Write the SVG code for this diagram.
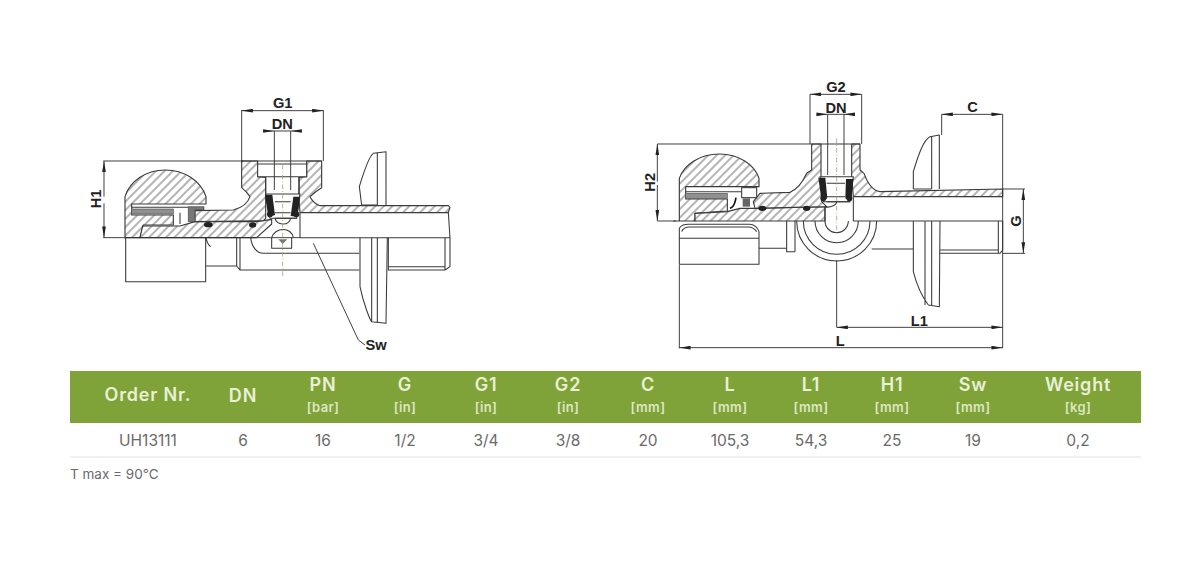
<svg xmlns="http://www.w3.org/2000/svg" width="1200" height="569" viewBox="0 0 1200 569">
<style>
.o{fill:none;stroke:#3a3a3a;stroke-width:3.2;stroke-linejoin:round}
.h{fill:url(#hatch);stroke:#3a3a3a;stroke-width:3.4;stroke-linejoin:round}
.w{fill:#fff;stroke:#3a3a3a;stroke-width:3.2}
.k{fill:#222;stroke:none}
.g{fill:#8f8f8f;stroke:#555;stroke-width:2}
.c{fill:none;stroke:#a3a37e;stroke-width:2.4;stroke-dasharray:14 6 3 6}
.d{fill:none;stroke:#333;stroke-width:2.8}
.a{marker-end:url(#arr)}
.l{font-family:"Liberation Sans",Arial,sans-serif;font-weight:700;font-size:44px;fill:#222;text-anchor:middle}
.th{font-family:Inter,"Open Sans",sans-serif;font-weight:600;font-size:18px;letter-spacing:.8px;fill:#e9f0d6;text-anchor:middle}
.tu{font-family:Inter,"Open Sans",sans-serif;font-weight:600;font-size:13px;letter-spacing:.4px;fill:#dde7c2;text-anchor:middle}
.td{font-family:Inter,"Open Sans",sans-serif;font-weight:400;font-size:15.5px;fill:#6a6a6a;text-anchor:middle}
</style>
<defs>
<pattern id="hatch" patternUnits="userSpaceOnUse" width="18" height="18" patternTransform="rotate(45)">
<rect width="18" height="18" fill="#fff"/><line x1="9" y1="0" x2="9" y2="18" stroke="#6a6a6a" stroke-width="3"/>
</pattern>
<marker id="arr" viewBox="0 0 12 4" refX="12" refY="2" markerWidth="12" markerHeight="4" orient="auto" markerUnits="strokeWidth">
<path d="M0 0L12 2L0 4Z" fill="#222"/>
</marker>
</defs>
<rect width="1200" height="569" fill="#fff"/>

<g id="valve-left" transform="translate(80,90) scale(.33333)">
<path class="h" d="M135 443V320C150 272 200 240 256 240C312 240 362 272 378 320V342H155V375H280V405H190L180 443Z"/>
<path class="h" d="M180 443L188 408H300L345 395H530L575 388V402L530 443Z"/>
<path class="h" d="M345 362L460 360Q500 350 510 320Q500 305 485 293V213H533V260L557 262V385L550 392L345 395Z"/>
<path class="h" d="M725 213H680V260L657 262V330L660 368H1105L1110 352L1105 347H720Q700 340 690 320Q705 305 725 293Z"/>
<path class="w" d="M533 222H680V260H533Z"/>
<path class="o" d="M485 213H725"/>
<path class="o" d="M557 262V312M657 262V312"/>
<rect class="g" x="155" y="357" width="125" height="15"/>
<path class="o" d="M155 352H325M300 368V402"/>
<path d="M325 350H372V360H345V395H325Z" fill="#777" stroke="#444" stroke-width="2"/>
<path class="w" d="M557 312H660L650 385H570Z"/>
<path class="k" d="M555 314H577L585 375L565 382Z"/>
<path class="k" d="M660 320H640L632 378L652 380Z"/>
<circle class="k" cx="570" cy="373" r="9"/><circle class="k" cx="649" cy="373" r="9"/>
<ellipse class="k" cx="385" cy="404" rx="13" ry="8"/><ellipse class="k" cx="518" cy="405" rx="11" ry="8"/>
<path class="o" d="M585 335H632M585 368H632M585 385H650M585 385C590 405 625 410 632 385M660 368V443M575 443C585 410 635 410 640 443"/>
<path class="o" d="M575 443V475H635V443M512 443C515 470 530 490 550 490H838M470 443V528H378M480 443V540H838M470 528L480 540M378 443C380 455 385 465 392 470"/>
<path class="o" d="M137 443V575H377V443"/>
<path d="M595 448H622L608 462Z" fill="#777"/>
<path class="c" d="M608 225V560"/>
<path class="o" d="M845 345L838 290C850 250 865 200 880 190L918 185V345M892 190V345M845 345H892"/>
<path class="o" d="M840 443V590C850 640 870 690 875 695L918 700L922 443M875 443V695M892 443V697"/>
<path class="o" d="M925 443V540H1095L1110 530V443M1095 443V540M925 530H1095M1105 368L1110 443"/>
<path class="o" d="M660 443H1110"/>
</g>

<g id="valve-right" transform="translate(640,75) scale(.33333)">
<path class="h" d="M118 438V310C132 268 180 237 238 237C296 237 344 268 357 310V335H137V372H262V408L165 415V438Z"/>
<path class="h" d="M165 438V415L262 410L300 400H345L555 395V438Z"/>
<path class="h" d="M340 380L360 355L450 352Q480 340 500 295L515 285V207H543V305L545 380L560 395L345 400Z"/>
<path class="h" d="M660 207H635V305L640 365H1088V342L720 350Q690 345 672 295L660 285Z"/>
<path class="o" d="M515 207H660"/>
<rect class="g" x="137" y="355" width="125" height="15"/>
<path class="o" d="M137 350H305"/>
<rect class="w" x="305" y="338" width="45" height="30"/>
<path d="M308 370H330V395H308Z" fill="#666"/>
<path d="M270 400C285 395 285 380 288 368" fill="none" stroke="#111" stroke-width="5"/>
<path class="w" d="M540 305H640L630 380H550Z"/>
<path class="k" d="M535 308H556L562 370L545 378Z"/>
<path class="k" d="M640 312H618L616 370L634 378Z"/>
<circle class="k" cx="550" cy="370" r="9"/><circle class="k" cx="628" cy="370" r="9"/>
<ellipse class="k" cx="367" cy="400" rx="12" ry="8"/><ellipse class="k" cx="500" cy="400" rx="11" ry="8"/>
<path class="o" d="M560 325H615M560 365H615M560 380H630M555 395V438M640 365V438M555 395C570 400 590 390 590 380"/>
<path class="c" d="M590 190V470"/>
<path class="o" d="M118 460Q125 448 145 448H330Q350 450 357 470V568H118ZM118 490H357M125 470Q130 456 150 456H325Q340 456 350 470"/>
<path class="o" d="M357 520H440M440 438V530H465M465 438V530"/>
<path class="o" d="M470 438A120 120 0 0 0 710 438M490 438A100 100 0 0 0 690 438M525 438A65 65 0 0 0 655 438M555 438A35 35 0 0 0 625 438"/>
<path class="o" d="M695 522H820"/>
<path class="o" d="M820 342V290C835 240 850 195 870 185L898 180V342M875 185V342M820 342H875"/>
<path class="o" d="M820 438V590Q835 650 865 690L898 695L900 438M855 438V690M875 438V692"/>
<path class="o" d="M900 535H1080L1088 525V438M1075 438V535M900 525H1075"/>
<path class="o" d="M640 438H1088M118 438H100"/>
</g>

<g id="connectors">
<g transform="translate(80,90) scale(.33333)">
<path class="d" d="M485 60V213M730 60V213M583 123V300M632 123V300M70 213H490M70 443H135M135 443H660"/>
<path class="d a" d="M607 62H485"/><path class="d a" d="M607 62H730"/>
<path class="d a" d="M550 123H583"/><path class="d a" d="M665 123H632"/><path class="d" d="M583 123H632"/>
<path class="d a" d="M72 320V213"/><path class="d a" d="M72 340V443"/>
<path class="d" d="M700 460L835 750L855 765"/>
</g>
<g transform="translate(640,75) scale(.33333)">
<path class="d" d="M510 58V207M665 58V207M563 118V300M612 118V300M52 207H515M52 438H108M905 118V180M1088 118V820M590 555V757M118 570V820M1088 342H1155M1088 535H1155"/>
<path class="d a" d="M587 58H510"/><path class="d a" d="M587 58H665"/>
<path class="d a" d="M530 118H563"/><path class="d a" d="M645 118H612"/><path class="d" d="M563 118H612"/>
<path class="d a" d="M1000 118H905"/><path class="d a" d="M1000 118H1088"/>
<path class="d a" d="M52 320V207"/><path class="d a" d="M52 330V438"/>
<path class="d a" d="M1150 440V342"/><path class="d a" d="M1150 440V535"/>
<path class="d a" d="M840 757H590"/><path class="d a" d="M840 757H1088"/>
<path class="d a" d="M600 818H118"/><path class="d a" d="M600 818H1088"/>
</g>
</g>

<g id="dimension-labels">
<g transform="translate(80,90) scale(.33333)">
<text class="l" x="608" y="55">G1</text>
<text class="l" x="607" y="116">DN</text>
<text class="l" transform="translate(64,327) rotate(-90)" x="0" y="0">H1</text>
<text class="l" x="888" y="781">Sw</text>
</g>
<g transform="translate(640,75) scale(.33333)">
<text class="l" x="588" y="50">G2</text>
<text class="l" x="588" y="113">DN</text>
<text class="l" x="998" y="112">C</text>
<text class="l" transform="translate(46,322) rotate(-90)" x="0" y="0">H2</text>
<text class="l" transform="translate(1144,438) rotate(-90)" x="0" y="0">G</text>
<text class="l" x="838" y="752">L1</text>
<text class="l" x="601" y="812">L</text>
</g>
</g>

<g id="table">
<rect x="70" y="371" width="1071" height="52" fill="#7fa339"/>
<text class="th" x="148" y="401">Order Nr.</text>
<text class="th" x="243" y="402">DN</text>
<text class="th" x="323" y="391">PN</text><text class="tu" x="323" y="412">[bar]</text>
<text class="th" x="405" y="391">G</text><text class="tu" x="405" y="412">[in]</text>
<text class="th" x="486" y="391">G1</text><text class="tu" x="486" y="412">[in]</text>
<text class="th" x="568" y="391">G2</text><text class="tu" x="568" y="412">[in]</text>
<text class="th" x="648" y="391">C</text><text class="tu" x="648" y="412">[mm]</text>
<text class="th" x="730" y="391">L</text><text class="tu" x="730" y="412">[mm]</text>
<text class="th" x="811" y="391">L1</text><text class="tu" x="811" y="412">[mm]</text>
<text class="th" x="892" y="391">H1</text><text class="tu" x="892" y="412">[mm]</text>
<text class="th" x="973" y="391">Sw</text><text class="tu" x="973" y="412">[mm]</text>
<text class="th" x="1078" y="391">Weight</text><text class="tu" x="1078" y="412">[kg]</text>
<text class="td" x="148" y="446">UH13111</text>
<text class="td" x="243" y="446">6</text>
<text class="td" x="323" y="446">16</text>
<text class="td" x="405" y="446">1/2</text>
<text class="td" x="486" y="446">3/4</text>
<text class="td" x="568" y="446">3/8</text>
<text class="td" x="648" y="446">20</text>
<text class="td" x="730" y="446">105,3</text>
<text class="td" x="811" y="446">54,3</text>
<text class="td" x="892" y="446">25</text>
<text class="td" x="973" y="446">19</text>
<text class="td" x="1078" y="446">0,2</text>
<line x1="70" y1="457" x2="1141" y2="457" stroke="#e2e2e2" stroke-width="1"/>
<text x="70" y="479" font-family="Inter,'Open Sans',sans-serif" font-size="13.5" fill="#6a6a6a">T max = 90°C</text>
</g>
</svg>
